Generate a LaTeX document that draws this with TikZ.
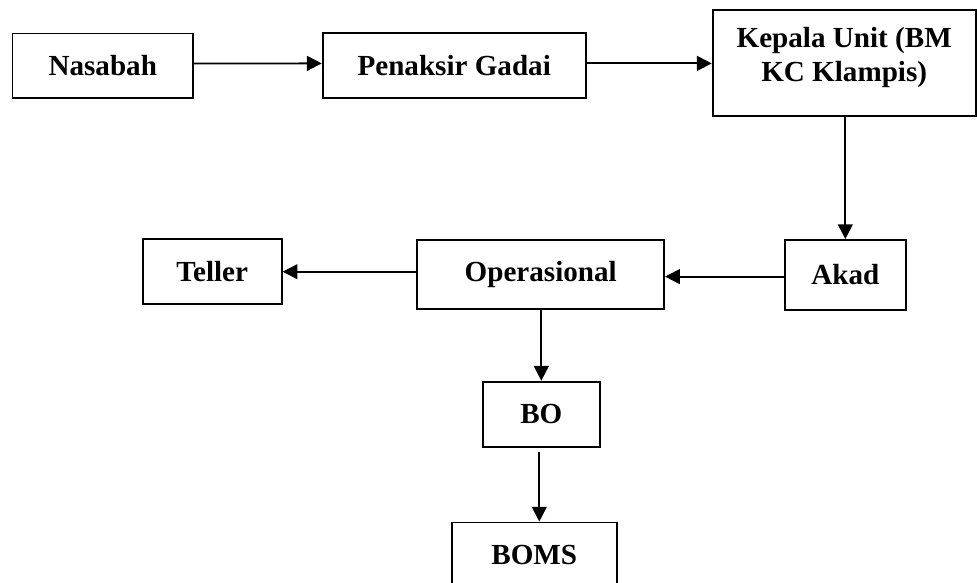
\documentclass[tikz,border=0pt]{standalone}
\usepackage{fontspec}
\setmainfont{Liberation Serif}
\usetikzlibrary{arrows.meta,positioning,calc}

\begin{document}
\begin{tikzpicture}[x=0.025cm, y=-0.025cm,
      >={Triangle[length=0.37cm,width=0.37cm]}, line width=1.3pt,
      blok/.style={rectangle,draw=black,line width=1.3pt,text=black,align=center,
        inner sep=0pt,font=\fontsize{20.7}{24}\selectfont\bfseries}]
    \useasboundingbox (0,0) rectangle (977,583);
    % baris atas
    \node[blok,minimum width=4.51cm,minimum height=1.62cm] at (102.8,65.9) (nasabah) {Nasabah};
    \node[blok,minimum width=6.575cm,minimum height=1.625cm] at (454.2,65.8) (penaksir) {Penaksir Gadai};
    \node[blok,minimum width=6.575cm,minimum height=2.65cm,text depth=0.42cm] at (844.2,63) (kepala) {Kepala Unit (BM\\KC Klampis)};
    % baris tengah
    \node[blok,minimum width=3.02cm,minimum height=1.75cm] at (845.3,275) (akad) {Akad};
    \node[blok,minimum width=6.17cm,minimum height=1.733cm] at (540.7,274.7) (operasional) {Operasional};
    \node[blok,minimum width=3.475cm,minimum height=1.618cm] at (212.2,271.7) (teller) {Teller};
    % baris bawah
    \node[blok,minimum width=2.933cm,minimum height=1.625cm] at (541.3,414.2) (bo) {BO};
    \node[blok,minimum width=4.125cm,minimum height=1.625cm] at (534.2,555) (boms) {BOMS};
    \draw[->] ([yshift=0.06cm]nasabah.east) -- ([yshift=0.06cm]penaksir.west);
    \draw[->] ([yshift=0.06cm]penaksir.east) -- ([yshift=0.06cm]penaksir.east -| kepala.west);
    \draw[->] (kepala.south -| akad.north) -- (akad.north);
    \draw[->] ([yshift=-0.04cm]akad.west) -- ([yshift=-0.04cm]akad.west -| operasional.east);
    \draw[->] (operasional.west |- teller.east) -- (teller.east);
    \draw[->] (operasional.south -| bo.north) -- (bo.north);
    \draw[->,shorten <=0.12cm] ([xshift=-0.05cm]bo.south) -- ([xshift=-0.05cm]bo.south |- boms.north);
\end{tikzpicture}
\end{document}
